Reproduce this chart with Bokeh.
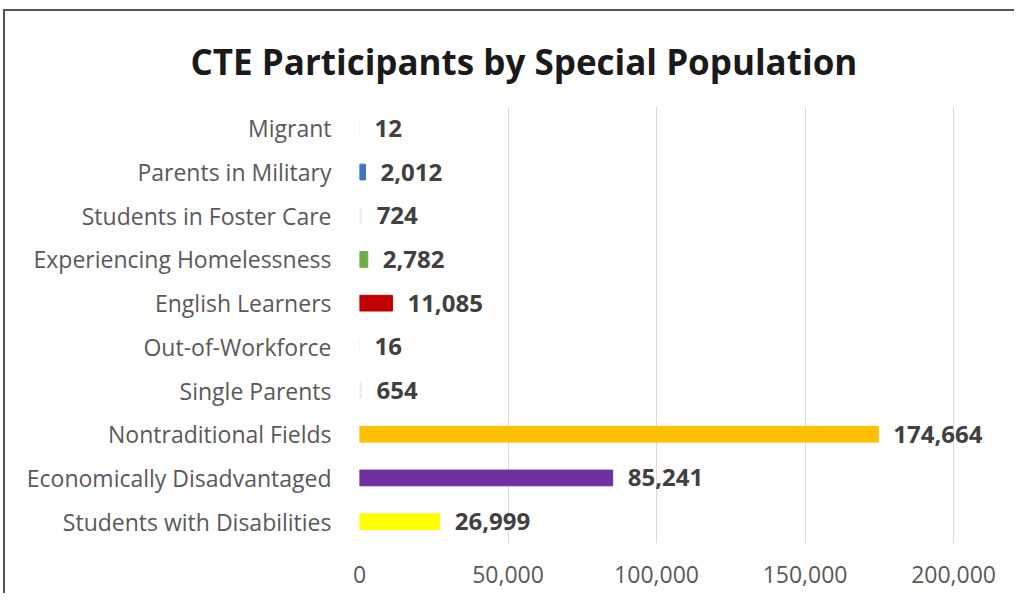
from bokeh.plotting import figure
from bokeh.models import (FactorRange, Range1d, FixedTicker, NumeralTickFormatter,
                          ColumnDataSource)
from bokeh.core.properties import value
from bokeh.embed import file_html
from bokeh.resources import INLINE

# ---- data ----
categories = ["Students with Disabilities", "Economically Disadvantaged",
              "Nontraditional Fields", "Single Parents", "Out-of-Workforce",
              "English Learners", "Experiencing Homelessness",
              "Students in Foster Care", "Parents in Military", "Migrant"]
participants = [26999, 85241, 174664, 654, 16, 11085, 2782, 724, 2012, 12]
bar_colors = ["#FFFF00", "#7030A0", "#FFC000", "#EFEFEF", "#EFEFEF",
              "#C00000", "#70AD47", "#EFEFEF", "#4472C4", "#EFEFEF"]
x_ticks = [0, 50000, 100000, 150000, 200000]
title_text = "CTE Participants by Special Population"

labels = [f"{v:,}" for v in participants]
src = ColumnDataSource(dict(cat=categories, val=participants,
                            color=bar_colors, lab=labels))

p = figure(width=1011, height=584, output_backend="svg", toolbar_location=None,
           title=title_text,
           y_range=FactorRange(*categories, range_padding=0),
           x_range=Range1d(0, 219500),
           min_border_left=354, min_border_right=5,
           min_border_top=95, min_border_bottom=52,
           outline_line_color=None)
p.styles = {"border-top": "2px solid #555555", "border-left": "2px solid #555555",
            "margin-left": "3px", "margin-top": "9px"}

p.hbar(y="cat", right="val", left=0, height=0.36, color="color", source=src)

p.text(x="val", y="cat", text="lab", source=src, x_offset=15,
       text_align="left", text_baseline="middle",
       text_font=value("Open Sans"), text_font_style="bold",
       text_font_size="24px", text_color="#404040")

# axes
p.xaxis.ticker = FixedTicker(ticks=x_ticks)
p.xaxis.formatter = NumeralTickFormatter(format="0,0")
p.xaxis.axis_line_color = None
p.xaxis.major_tick_line_color = None
p.xaxis.minor_tick_line_color = None
p.xaxis.major_label_standoff = 16
p.xaxis.major_label_text_font = "Open Sans"
p.xaxis.major_label_text_font_size = "23px"
p.xaxis.major_label_text_color = "#595959"

p.yaxis.axis_line_color = None
p.yaxis.major_tick_line_color = None
p.yaxis.minor_tick_line_color = None
p.yaxis.major_label_standoff = 22
p.yaxis.major_label_text_font = "Open Sans"
p.yaxis.major_label_text_font_size = "23px"
p.yaxis.major_label_text_color = "#595959"

p.xgrid.grid_line_color = "#D9D9D9"
p.ygrid.grid_line_color = None

p.title.align = "left"
p.title.offset = -169
p.title.standoff = 44
p.title.text_font = "Open Sans"
p.title.text_font_style = "bold"
p.title.text_font_size = "35px"
p.title.text_color = "#1A1A1A"

open("out.html", "w").write(file_html(p, INLINE))
